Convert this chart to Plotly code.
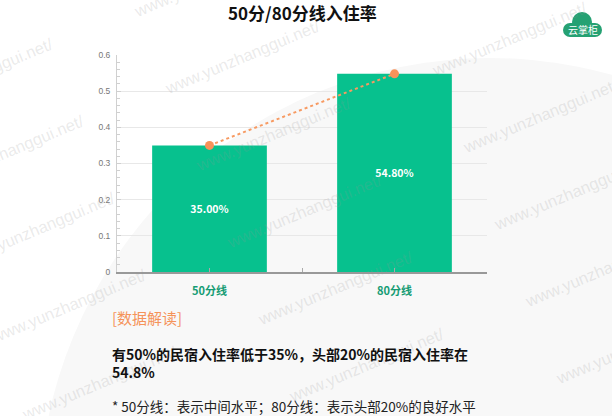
#%% Libraries
import plotly.graph_objects as go

#%% Data
categories = ['50分线', '80分线']
occupancy = [0.35, 0.548]
y_ticks = [0, 0.1, 0.2, 0.3, 0.4, 0.5, 0.6]

title = '50分/80分线入住率'
note_head = '[数据解读]'
note_lines = ['有50%的民宿入住率低于35%，头部20%的民宿入住率在', '54.8%']
footnote = '* 50分线：表示中间水平；80分线：表示头部20%的良好水平'
watermark = 'www.yunzhanggui.net/'
logo_text = '云掌柜'

#%% Page geometry (pixels)
W, H = 612, 416
L, R, T, B = 117, 125, 55, 144
pw, ph = W - L - R, H - T - B

def px(x):
    # pixel x -> paper
    return (x - L) / pw

def py(y):
    # pixel y -> paper
    return (H - B - y) / ph

cjk = 'Noto Sans CJK SC'
latin = 'Liberation Sans'

#%% Figure
fig = go.Figure()

xs = list(range(len(categories)))
fig.add_trace(go.Bar(x=xs, y=occupancy, width=0.62,
                     marker=dict(color='#07c18e', line_width=0),
                     text=['<b>%.2f%%</b>' % (v * 100) for v in occupancy],
                     textposition='inside', insidetextanchor='middle',
                     textfont=dict(color='white', size=10.5, family=cjk),
                     hoverinfo='skip'))

fig.add_trace(go.Scatter(x=xs, y=occupancy, mode='lines+markers',
                         line=dict(color='#f79a62', width=2, dash='dot'),
                         marker=dict(color='#f7925a', size=9),
                         hoverinfo='skip'))

fig.update_xaxes(range=[-0.5, 1.5], tickvals=xs,
                 ticktext=['<b>%s</b>' % c for c in categories],
                 tickfont=dict(color='#169c74', size=11, family=cjk),
                 showgrid=False, zeroline=False,
                 showline=True, linecolor='#999999', linewidth=1.5,
                 ticks='inside', ticklen=4, tickcolor='#aaaaaa',
                 ticklabelstandoff=8,
                 minor=dict(tickvals=[0.5], ticks='inside', ticklen=4, tickcolor='#aaaaaa'))

fig.update_yaxes(range=[0, 0.6], tickvals=y_ticks,
                 ticktext=[('%g' % v) for v in y_ticks],
                 tickfont=dict(color='#777777', size=8.5, family=latin),
                 showgrid=True, gridcolor='#e8e8e8', gridwidth=1, zeroline=False,
                 showline=True, linecolor='#d0d0d0', linewidth=1,
                 ticks='inside', ticklen=4, tickcolor='#d0d0d0',
                 ticklabelstandoff=4,
                 minor=dict(dtick=0.02, ticks='inside', ticklen=3, tickcolor='#d0d0d0',
                            showgrid=False))

#%% Background circle and logo (all below, so the texts stay on top)
shapes = [dict(type='circle', xref='paper', yref='paper', layer='below',
               x0=px(490 - 451), x1=px(490 + 451), y0=py(509 + 451), y1=py(509 - 451),
               fillcolor='#f8f8f8', line_width=0)]
logo_green = '#25a173'
for kind, x0, x1, y0, y1 in [('circle', 572, 592, 32, 12),
                             ('circle', 563, 577, 37, 23),
                             ('circle', 588, 602, 37, 23),
                             ('rect', 570, 595, 37, 23)]:
    shapes.append(dict(type=kind, xref='paper', yref='paper', layer='below',
                       x0=px(x0), x1=px(x1), y0=py(y0), y1=py(y1),
                       fillcolor=logo_green, line_width=0))

#%% Texts
ann = []
# Watermark grid first, the other texts go on top of it
for i in [-1, 0, 1]:
    for j in [-1, 0, 1, 2, 3, 4]:
        cx = 242 + 31 * j + 267 * i
        cy = 57 + 77 * j - 18 * i
        ann.append(dict(text=watermark, x=px(cx), y=py(cy), xref='paper', yref='paper',
                        showarrow=False, xanchor='center', yanchor='middle',
                        textangle=-22.7,
                        font=dict(color='rgba(150,150,150,0.2)', size=16.5, family=latin)))

ann.append(dict(text=logo_text, x=px(582.5), y=py(29), xref='paper', yref='paper',
                showarrow=False, xanchor='center', yanchor='middle',
                font=dict(color='#ffffff', size=10, family=cjk)))
ann.append(dict(text='<b>%s</b>' % title, x=0.5, y=py(13), xref='paper', yref='paper',
                showarrow=False, xanchor='center', yanchor='middle',
                font=dict(color='#111111', size=17, family=cjk)))
ann.append(dict(text=note_head, x=px(110), y=py(317), xref='paper', yref='paper',
                showarrow=False, xanchor='left', yanchor='middle',
                font=dict(color='#f5935a', size=15, family=cjk)))
ann.append(dict(text='<br>'.join('<b>%s</b>' % s for s in note_lines),
                x=px(110), y=py(342), xref='paper', yref='paper', showarrow=False,
                xanchor='left', yanchor='top', align='left',
                font=dict(color='#111111', size=14, family=cjk)))
ann.append(dict(text=footnote, x=px(110), y=py(406), xref='paper', yref='paper',
                showarrow=False, xanchor='left', yanchor='middle',
                font=dict(color='#222222', size=13.5, family=cjk)))

fig.update_layout(width=W, height=H, autosize=False,
                  margin=dict(l=L, r=R, t=T, b=B),
                  paper_bgcolor='white', plot_bgcolor='rgba(0,0,0,0)',
                  showlegend=False, bargap=0.38,
                  shapes=shapes, annotations=ann)

# page without the default body margin
fig.write_html('out.html', config={'displayModeBar': False},
               post_script="document.body.style.margin='0';")
